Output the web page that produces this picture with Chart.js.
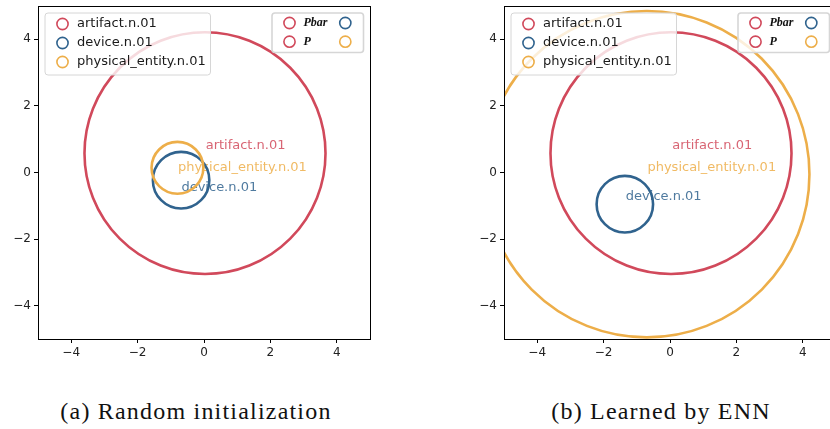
<!DOCTYPE html>
<html>
<head>
<meta charset="utf-8">
<script src="https://cdn.jsdelivr.net/npm/chart.js@4.4.1/dist/chart.umd.min.js"></script>
<style>
  html, body { margin: 0; padding: 0; background: #fff; overflow: hidden; }
  body { width: 830px; height: 429px; position: relative; }
  .panel { position: absolute; top: 0; width: 380px; height: 370px; }
  #panelA { left: 0; }
  #panelB { left: 466px; }
  .caption {
    position: absolute; top: 398px; font-family: "Liberation Serif", serif;
    font-size: 24px; letter-spacing: 1.2px; color: #111; white-space: nowrap; transform: translateX(-50%);
  }
</style>
</head>
<body>
<div class="panel" id="panelA"><canvas id="chartA" width="380" height="370"></canvas></div>
<div class="panel" id="panelB"><canvas id="chartB" width="380" height="370"></canvas></div>
<div class="caption" style="left:196px">(a) Random initialization</div>
<div class="caption" style="left:661px">(b) Learned by ENN</div>
<script>
// concepts and their colours
const concepts = ['artifact.n.01', 'device.n.01', 'physical_entity.n.01'];
const colors = ['#d1495b', '#30638e', '#edae49'];

// axis
const axisMin = -5;
const axisMax = 5;
const tickValues = [-4, -2, 0, 2, 4];

// (a) random initialization: circle centres and radii
const initCenterX = [0.03, -0.69, -0.80];
const initCenterY = [0.58, -0.23, 0.14];
const initRadius = [3.63, 0.85, 0.78];
const initLabelX = [0.05, -0.68, -0.78];
const initLabelY = [0.80, -0.45, 0.16];

// (b) learned by ENN
const ennCenterX = [0.03, -1.36, -0.70];
const ennCenterY = [0.58, -0.95, -0.05];
const ennRadius = [3.63, 0.85, 4.90];
const ennLabelX = [0.07, -1.33, -0.68];
const ennLabelY = [0.80, -0.72, 0.16];

// second legend entries
const legend2Labels = ['Pbar', 'P'];

function withAlpha(hex, a) {
    const n = parseInt(hex.slice(1), 16);
    return `rgba(${(n >> 16) & 255}, ${(n >> 8) & 255}, ${n & 255}, ${a})`;
}

function roundRect(ctx, x, y, w, h, r) {
    ctx.beginPath();
    ctx.moveTo(x + r, y);
    ctx.lineTo(x + w - r, y);
    ctx.quadraticCurveTo(x + w, y, x + w, y + r);
    ctx.lineTo(x + w, y + h - r);
    ctx.quadraticCurveTo(x + w, y + h, x + w - r, y + h);
    ctx.lineTo(x + r, y + h);
    ctx.quadraticCurveTo(x, y + h, x, y + h - r);
    ctx.lineTo(x, y + r);
    ctx.quadraticCurveTo(x, y, x + r, y);
    ctx.closePath();
}

function marker(ctx, x, y, color) {
    ctx.beginPath();
    ctx.arc(x, y, 5.6, 0, Math.PI * 2);
    ctx.strokeStyle = color;
    ctx.lineWidth = 1.6;
    ctx.stroke();
}

const circlePlugin = {
    id: 'circles',
    afterDatasetsDraw(chart) {
        const ctx = chart.ctx;
        const xs = chart.scales.x;
        const ys = chart.scales.y;
        const area = chart.chartArea;
        const cfg = chart.options.plugins.circles;

        ctx.save();
        ctx.beginPath();
        ctx.rect(area.left, area.top, area.right - area.left, area.bottom - area.top);
        ctx.clip();

        // labels first, circles over them
        ctx.font = '13px "DejaVu Sans"';
        ctx.textAlign = 'left';
        ctx.textBaseline = 'middle';
        concepts.forEach((name, i) => {
            ctx.fillStyle = withAlpha(colors[i], 0.85);
            ctx.fillText(name, xs.getPixelForValue(cfg.labelX[i]), ys.getPixelForValue(cfg.labelY[i]));
        });

        concepts.forEach((name, i) => {
            const cx = xs.getPixelForValue(cfg.cx[i]);
            const cy = ys.getPixelForValue(cfg.cy[i]);
            const rx = Math.abs(xs.getPixelForValue(cfg.cx[i] + cfg.r[i]) - cx);
            const ry = Math.abs(ys.getPixelForValue(cfg.cy[i] + cfg.r[i]) - cy);
            ctx.beginPath();
            ctx.ellipse(cx, cy, rx, ry, 0, 0, Math.PI * 2);
            ctx.strokeStyle = colors[i];
            ctx.lineWidth = 2.6;
            ctx.stroke();
        });
        ctx.restore();

        // frame
        ctx.save();
        ctx.strokeStyle = '#000';
        ctx.lineWidth = 1;
        ctx.strokeRect(Math.round(area.left) + 0.5, Math.round(area.top) + 0.5,
            Math.round(area.right - area.left), Math.round(area.bottom - area.top));

        // legend 1 (concept names)
        const lx = area.left + 7, ly = area.top + 7;
        roundRect(ctx, lx, ly, 165.5, 62, 3);
        ctx.fillStyle = 'rgba(255,255,255,0.8)';
        ctx.fill();
        ctx.strokeStyle = '#d6d6d6';
        ctx.lineWidth = 1;
        ctx.stroke();
        ctx.font = '13px "DejaVu Sans"';
        ctx.textBaseline = 'middle';
        concepts.forEach((name, i) => {
            const y = ly + 11 + i * 19;
            marker(ctx, lx + 17.5, y, colors[i]);
            ctx.fillStyle = '#1a1a1a';
            ctx.fillText(name, lx + 32, y);
        });

        // legend 2 (Pbar / P)
        const gx = area.left + 234, gy = area.top + 7;
        roundRect(ctx, gx, gy, 91.5, 39.5, 3);
        ctx.fillStyle = 'rgba(255,255,255,0.8)';
        ctx.fill();
        ctx.strokeStyle = '#d6d6d6';
        ctx.stroke();
        ctx.font = 'italic bold 12px "Liberation Serif"';
        legend2Labels.forEach((name, i) => {
            const y = gy + 10 + i * 18.7;
            marker(ctx, gx + 17.5, y, colors[0]);
            ctx.fillStyle = '#111';
            ctx.fillText(name, gx + 31.5, y);
            marker(ctx, gx + 73.3, y, colors[i + 1]);
        });
        ctx.restore();
    }
};

function axisOptions(isX) {
    return {
        type: 'linear',
        min: axisMin,
        max: axisMax,
        afterBuildTicks: (scale) => {
            scale.ticks = tickValues.map(v => ({ value: v }));
        },
        afterFit: (scale) => {
            if (isX) {
                scale.height = 31;
                scale.paddingLeft = 0;
                scale.paddingRight = 0;
            } else {
                scale.width = 38;
                scale.paddingTop = 0;
                scale.paddingBottom = 0;
            }
        },
        grid: { drawOnChartArea: false, drawTicks: true, tickLength: 4, color: '#000', tickWidth: 1 },
        border: { display: true, color: '#000', width: 1 },
        ticks: {
            color: '#222',
            padding: 3,
            font: { family: 'DejaVu Sans', size: 12 },
            callback: (v) => String(v).replace('-', '\u2212')
        }
    };
}

function makeChart(id, cx, cy, r, labelX, labelY) {
    const ctx = document.getElementById(id).getContext('2d');
    return new Chart(ctx, {
        type: 'scatter',
        data: {
            datasets: concepts.map((name, i) => ({
                label: name,
                data: [{ x: cx[i], y: cy[i] }],
                pointRadius: 0,
                borderColor: colors[i],
                backgroundColor: colors[i]
            }))
        },
        options: {
            responsive: false,
            animation: false,
            layout: { padding: { top: 6, right: 10, left: 0, bottom: 0 } },
            scales: { x: axisOptions(true), y: axisOptions(false) },
            plugins: {
                legend: { display: false },
                tooltip: { enabled: false },
                circles: { cx: cx, cy: cy, r: r, labelX: labelX, labelY: labelY }
            }
        },
        plugins: [circlePlugin]
    });
}

makeChart('chartA', initCenterX, initCenterY, initRadius, initLabelX, initLabelY);
makeChart('chartB', ennCenterX, ennCenterY, ennRadius, ennLabelX, ennLabelY);
</script>
</body>
</html>
